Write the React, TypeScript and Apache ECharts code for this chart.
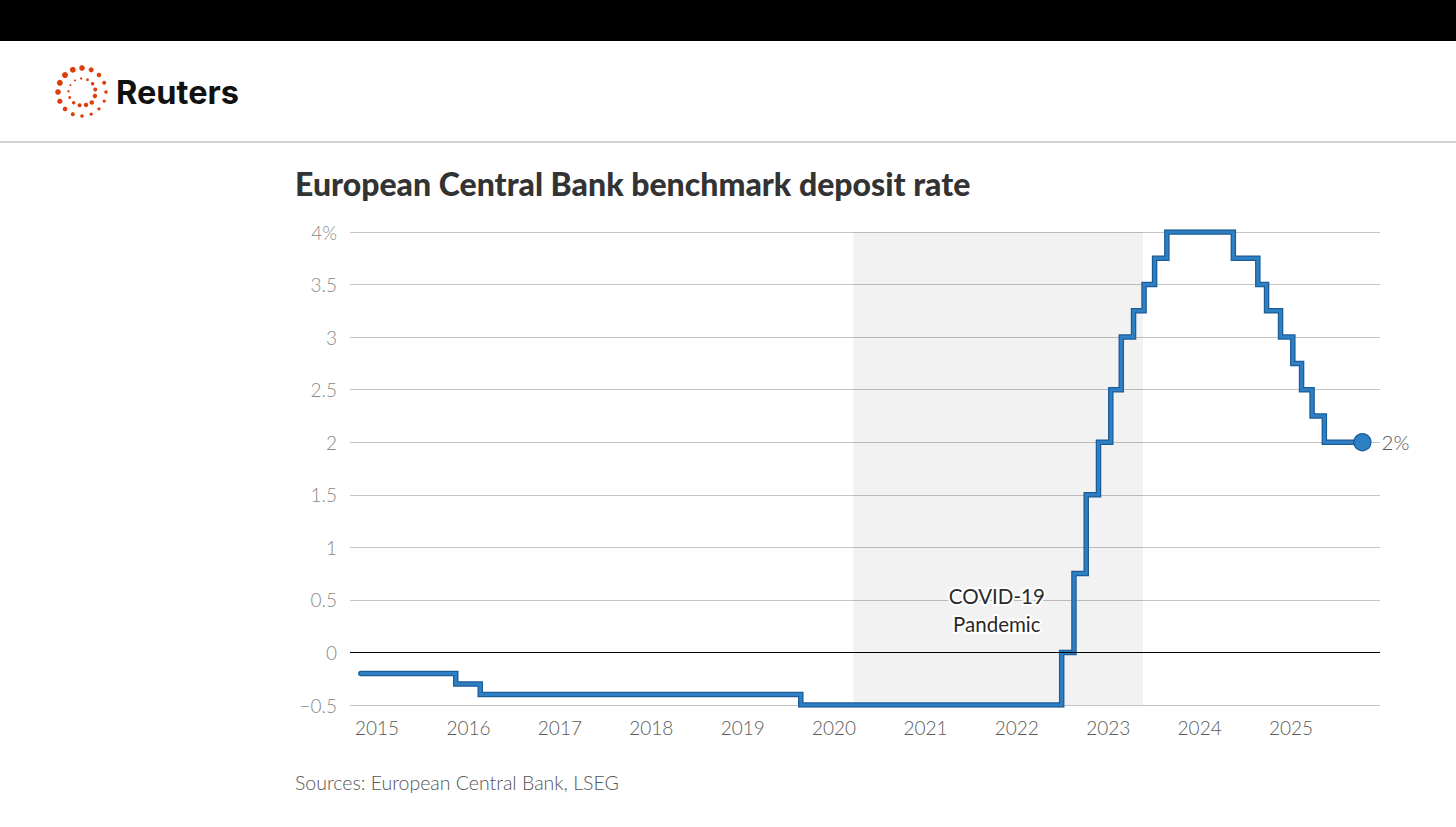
import React, { useEffect, useRef } from "react";
import * as echarts from "echarts";

// ECB deposit facility rate: date of change and new rate (%)
const rateDates = [
  "2014-11-25", "2015-12-09", "2016-03-16", "2019-09-18", "2022-07-27",
  "2022-09-14", "2022-11-02", "2022-12-21", "2023-02-08", "2023-03-22",
  "2023-05-10", "2023-06-21", "2023-08-02", "2023-09-20", "2024-06-12",
  "2024-09-18", "2024-10-23", "2024-12-18", "2025-02-05", "2025-03-12",
  "2025-04-23", "2025-06-11", "2025-11-10",
];
const rateValues = [
  -0.2, -0.3, -0.4, -0.5, 0,
  0.75, 1.5, 2, 2.5, 3,
  3.25, 3.5, 3.75, 4, 3.75,
  3.5, 3.25, 3, 2.75, 2.5,
  2.25, 2, 2,
];
const yearTicks = [2015, 2016, 2017, 2018, 2019, 2020, 2021, 2022, 2023, 2024, 2025];
const covidPeriod = ["2020-04-15", "2023-06-17"];
const covidLabel = "COVID-19\nPandemic";
const covidLabelAt = ["2021-11-10", 0.4];
const title = "European Central Bank benchmark deposit rate";
const source = "Sources: European Central Bank, LSEG";

function decYear(d: string): number {
  const [y, m, day] = d.split("-").map(Number);
  const start = Date.UTC(y, 0, 1);
  const t = Date.UTC(y, m - 1, day);
  const end = Date.UTC(y + 1, 0, 1);
  return y + (t - start) / (end - start);
}

const FONT = "Lato, 'Noto Sans', sans-serif";

function logoDots(cx: number, cy: number) {
  const els: any[] = [];
  const outerN = 16;
  for (let i = 0; i < outerN; i++) {
    const a = (i / outerN) * Math.PI * 2;
    const r = 1.6 + 1.4 * (0.5 + 0.5 * Math.cos(a + 2.4));
    els.push({
      type: "circle",
      shape: { cx: cx + 24 * Math.cos(a), cy: cy + 24 * Math.sin(a), r },
      style: { fill: "#dc3e0c" },
    });
  }
  const innerN = 13;
  for (let i = 0; i < innerN; i++) {
    const a = (i / innerN) * Math.PI * 2 + 0.3;
    const r = 1.0 + 1.3 * (0.5 + 0.5 * Math.cos(a - 0.8));
    els.push({
      type: "circle",
      shape: { cx: cx + 13.5 * Math.cos(a), cy: cy + 13.5 * Math.sin(a), r },
      style: { fill: "#dc3e0c" },
    });
  }
  return els;
}

export default function App() {
  const ref = useRef<HTMLDivElement>(null);
  useEffect(() => {
    if (!ref.current) return;
    const chart = echarts.init(ref.current, undefined, { renderer: "svg" });
    const data = rateDates.map((d, i) => [decYear(d), rateValues[i]]);
    const last = data[data.length - 1];
    chart.setOption({
      animation: false,
      backgroundColor: "#ffffff",
      grid: { left: 350, right: 76, top: 232, bottom: 122 },
      xAxis: {
        type: "value",
        min: 2014.78,
        max: 2026.05,
        splitLine: { show: false },
        axisLine: { show: false },
        axisTick: { show: false },
        axisLabel: {
          customValues: yearTicks,
          formatter: (v: number) => String(Math.round(v)),
          color: "#5a5a5a",
          fontSize: 19,
          fontWeight: 300,
          fontFamily: FONT,
          margin: 13,
          padding: [0, 0, 0, 14],
        },
      },
      yAxis: {
        type: "value",
        min: -0.5,
        max: 4,
        interval: 0.5,
        axisLine: { show: false },
        axisTick: { show: false },
        splitLine: { lineStyle: { color: "#c4c4c4", width: 1 } },
        axisLabel: {
          color: "#8a8a8a",
          fontSize: 19,
          fontWeight: 300,
          fontFamily: FONT,
          margin: 13,
          formatter: (v: number) =>
            v === 4 ? "4%" : v < 0 ? "\u2212" + Math.abs(v) : String(v),
        },
      },
      series: [
        {
          type: "line",
          step: "end",
          data,
          symbol: "none",
          lineStyle: { color: "#1c5c96", width: 5.5, join: "miter", cap: "round" },
          z: 2,
          silent: true,
          markArea: {
            silent: true,
            itemStyle: { color: "rgba(0,0,0,0.05)" },
            data: [[{ xAxis: decYear(covidPeriod[0]) }, { xAxis: decYear(covidPeriod[1]) }]],
          },
          markLine: {
            silent: true,
            symbol: "none",
            label: { show: false },
            lineStyle: { color: "#000000", width: 1.2, type: "solid" },
            data: [{ yAxis: 0 }],
          },
          markPoint: {
            silent: true,
            symbol: "circle",
            symbolSize: 0,
            data: [
              {
                coord: [decYear(covidLabelAt[0] as string), covidLabelAt[1] as number],
                label: {
                  show: true,
                  formatter: covidLabel,
                  color: "#2a2a2a",
                  fontSize: 20.5,
                  lineHeight: 28,
                  fontFamily: FONT,
                  align: "center",
                  verticalAlign: "middle",
                  textBorderColor: "#ffffff",
                  textBorderWidth: 4,
                },
              },
            ],
          },
        },
        {
          type: "line",
          step: "end",
          data,
          symbol: "none",
          lineStyle: { color: "#2e80c4", width: 3, join: "miter", cap: "round" },
          z: 3,
          silent: true,
        },
        {
          type: "scatter",
          data: [last],
          symbol: "circle",
          symbolSize: 17,
          itemStyle: { color: "#2e80c4", borderColor: "#1c5c96", borderWidth: 1.2, opacity: 1 },
          z: 4,
          silent: true,
          label: {
            show: true,
            position: "right",
            distance: 10,
            formatter: (p: any) => p.value[1] + "%",
            color: "#555555",
            fontSize: 20.5,
            fontWeight: 300,
            fontFamily: FONT,
          },
        },
      ],
      graphic: [
        { type: "rect", shape: { x: 0, y: 0, width: 1456, height: 41 }, style: { fill: "#000000" } },
        { type: "rect", shape: { x: 0, y: 141, width: 1456, height: 2 }, style: { fill: "#d2d2d2" } },
        ...logoDots(82, 92),
        {
          type: "text",
          x: 116,
          y: 92,
          style: {
            text: "Reuters",
            fill: "#111111",
            font: "bold 32.5px Inter, 'Noto Sans', sans-serif",
            textVerticalAlign: "middle",
          },
        },
        {
          type: "text",
          x: 295,
          y: 183,
          style: {
            text: title,
            fill: "#333333",
            font: "900 32px " + FONT,
            textVerticalAlign: "middle",
          },
        },
        {
          type: "text",
          x: 295,
          y: 782,
          style: {
            text: source,
            fill: "#555555",
            font: "300 19.5px " + FONT,
            textVerticalAlign: "middle",
          },
        },
      ],
    });
    return () => chart.dispose();
  }, []);
  return (
    <div
      ref={ref}
      style={{ position: "fixed", left: 0, top: 0, width: 1456, height: 827 }}
    />
  );
}
